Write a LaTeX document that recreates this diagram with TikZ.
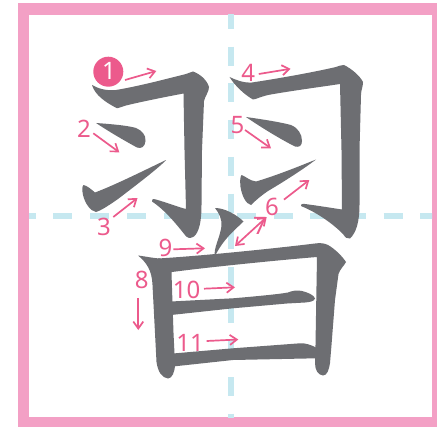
\documentclass[tikz,border=0pt]{standalone}
\usepackage{fontspec}
\setmainfont{Noto Sans}
\usetikzlibrary{arrows.meta}
\definecolor{framepink}{RGB}{243,160,197}
\definecolor{guideblue}{RGB}{198,232,240}
\definecolor{inkgray}{RGB}{109,110,114}
\definecolor{labelpink}{RGB}{236,90,140}
\begin{document}
\begin{tikzpicture}[x=1pt,y=-1pt,
  inkstroke/.style={fill=inkgray},
  num/.style={text=labelpink,font=\fontsize{24}{24}\selectfont,anchor=base,inner sep=0pt},
  dirarrow/.style={draw=labelpink,line width=1.7pt,-{Straight Barb[length=7pt,width=10pt]}},
  dirboth/.style={draw=labelpink,line width=1.7pt,{Straight Barb[length=7pt,width=10pt]}-{Straight Barb[length=7pt,width=10pt]}},
  guide/.style={draw=guideblue,line width=6pt,dash pattern=on 19pt off 17.7pt}]
\useasboundingbox (0,0) rectangle (437,428);
\fill[white] (0,0) rectangle (437,428);
\fill[framepink] (18,3) rectangle (437,427);
\fill[white] (29,15) rectangle (432,417);
\begin{scope}
\clip (29,15) rectangle (432,417);
\draw[guide] (230.5,10) -- (230.5,428);
\draw[guide] (16.7,216.3) -- (437,216.3);
\end{scope}
% stroke 1
\fill[inkstroke] (92,85) .. controls (98,88.5) and (106,91) .. (116,90)
 .. controls (140,86) and (170,78) .. (186,74)
 .. controls (189,73) and (191,72) .. (193,71.5)
 .. controls (200,74) and (207,80) .. (209,87)
 .. controls (209,92) and (205,96) .. (204,101)
 -- (202,150) -- (201.5,205)
 .. controls (201.5,222) and (199,232) .. (194,236.5)
 .. controls (190,239) and (187,238) .. (185,235)
 .. controls (177,225) and (165,210) .. (152,201.5)
 .. controls (151,199.5) and (153,198.5) .. (156,199.5)
 .. controls (168,203) and (178,207) .. (186,209)
 -- (184.5,150) -- (183.5,93.5)
 .. controls (165,97) and (140,102) .. (126,105.5)
 .. controls (121,107) and (118,108.5) .. (116.5,108)
 .. controls (105,102) and (95,95) .. (92,85) -- cycle;
% stroke 2
\fill[inkstroke] (96,123) .. controls (110,124) and (128,125.5) .. (136,128)
 .. controls (142,130.5) and (146,135) .. (145.5,141)
 .. controls (145,147) and (141,149) .. (137,147.5)
 .. controls (125,141) and (108,131) .. (96,123) -- cycle;
% stroke 3
\fill[inkstroke] (83.5,185) .. controls (87,185.5) and (92,190) .. (95,192.5)
 .. controls (115,185) and (145,170) .. (166,160)
 .. controls (160,167) and (135,186) .. (118,199)
 .. controls (108,206) and (100,211) .. (96,212)
 .. controls (90,211) and (85,203) .. (83,195)
 .. controls (82,190) and (82,186) .. (83.5,185) -- cycle;
% stroke 4
\fill[inkstroke] (229.5,77) .. controls (236,80) and (243,83) .. (252,82.5)
 .. controls (275,79) and (310,73) .. (336,67)
 .. controls (339,66) and (341,65) .. (344,65)
 .. controls (352,69) and (360,76) .. (363,82)
 .. controls (363,87) and (361,90) .. (361,95)
 -- (359.5,150) -- (359.5,205)
 .. controls (359.5,222) and (356,233) .. (350,238.5)
 .. controls (347,239.5) and (345,237) .. (343,234)
 .. controls (333,224) and (318,213) .. (301,206)
 .. controls (300,204.5) and (302,203.5) .. (305,204)
 .. controls (320,206) and (332,208) .. (342,209.5)
 -- (341.5,150) -- (340,84)
 .. controls (320,87) and (290,91) .. (268,95)
 .. controls (260,97) and (255,99.5) .. (253,99.5)
 .. controls (245,95) and (235,86) .. (229.5,77) -- cycle;
% stroke 5
\fill[inkstroke] (246,117) .. controls (260,119) and (280,122) .. (291,125)
 .. controls (298,128) and (302,134) .. (302,141)
 .. controls (302,146) and (299,147.5) .. (295,146.5)
 .. controls (282,140) and (262,128) .. (246,117) -- cycle;
% stroke 6
\fill[inkstroke] (241.5,175) .. controls (245,176) and (250,181) .. (256,181.5)
 .. controls (275,176) and (300,166) .. (316,159.5)
 .. controls (305,168) and (285,181) .. (268,191)
 .. controls (262,195) and (256,200) .. (251,205)
 .. controls (246,204) and (242,196) .. (240.5,187)
 .. controls (240,181) and (240,177) .. (241.5,175) -- cycle;
% stroke 7
\fill[inkstroke] (215,208) .. controls (225,208) and (237,215) .. (243.5,221.5)
 .. controls (236,229) and (224,238) .. (215,256)
 .. controls (213,249) and (220,238) .. (221.5,226)
 .. controls (222,219) and (219,213) .. (215,208) -- cycle;
% stroke 8
\fill[inkstroke] (138,255.5) .. controls (146,256.5) and (152,258) .. (160,258.5)
 -- (172,262) -- (171.5,273) -- (173.5,333) -- (175,364)
 .. controls (175,372) and (172,378.5) .. (168,378.5)
 .. controls (162,378) and (158,372) .. (156.5,362)
 -- (155,333) -- (152.5,285)
 .. controls (152,270) and (146,262) .. (138,255.5) -- cycle;
% stroke 9
\fill[inkstroke] (158,258.5) .. controls (200,256) and (270,249) .. (316.7,243.3)
 .. controls (321,242.8) and (325,243.5) .. (328,245)
 .. controls (335,249) and (342,256) .. (346,262)
 .. controls (344,266) and (340,269) .. (338.5,274)
 -- (335,300) -- (331.5,345) -- (330,363)
 .. controls (329,370) and (327,375.5) .. (323,375.5)
 .. controls (318,375) and (315,370) .. (315,363)
 -- (315.5,345) -- (317,257)
 .. controls (280,260) and (210,267) .. (172,272) -- (160,272) -- cycle;
% stroke 10
\fill[inkstroke] (171,301.5) -- (233,298.3)
 .. controls (260,296) and (280,294) .. (288,292.5)
 .. controls (293,290.5) and (297,290) .. (302,291)
 .. controls (308,292.5) and (314,295) .. (315,298.5)
 .. controls (314,301.5) and (310,302) .. (305,302.5)
 -- (287,303.5) -- (233,308.3) -- (171,315) -- cycle;
% stroke 11
\fill[inkstroke] (173,353.5) -- (233,348.3) -- (300,343.3)
 .. controls (306,343) and (311,345) .. (316,347.5)
 -- (316,358.3) -- (233,360) -- (173,366.5) -- cycle;
% labels
\node[circle,fill=labelpink,minimum size=30pt,inner sep=0pt] (c1) at (108.3,71.7) {};
\node[num,text=white] (n1) at (109,80) {1};
\node[num] (n2) at (84,138) {2};
\node[num] (n3) at (104,235.5) {3};
\node[num] (n4) at (248.3,81.7) {4};
\node[num] (n5) at (237.5,134) {5};
\node[num] (n6) at (272,215.3) {6};
\node[num] (n7) at (260,234) {7};
\node[num] (n8) at (141.7,288) {8};
\node[num] (n9) at (165.5,256.5) {9};
\node[num] (n10) at (186.7,298) {10};
\node[num] (n11) at (190,351.5) {11};
% arrows
\coordinate (a1s) at (125,80);    \coordinate (a1e) at (156.3,71);
\coordinate (a2s) at (93.3,133.3);\coordinate (a2e) at (119.3,152.3);
\coordinate (a3s) at (113.3,217); \coordinate (a3e) at (137.5,198);
\coordinate (a4s) at (258.8,74);  \coordinate (a4e) at (290.5,68.8);
\coordinate (a5s) at (245,130);   \coordinate (a5e) at (271,148.3);
\coordinate (a6s) at (284,199.6); \coordinate (a6e) at (309.3,180);
\coordinate (a7s) at (266.7,217); \coordinate (a7e) at (235,246);
\coordinate (a8s) at (138.3,298.3);\coordinate (a8e) at (138.3,330);
\coordinate (a9s) at (173.3,249.3);\coordinate (a9e) at (205,248.3);
\coordinate (a10s) at (204,288.7);\coordinate (a10e) at (235,287.3);
\coordinate (a11s) at (206.7,341);\coordinate (a11e) at (238.3,339.5);
\draw[dirarrow] (a1s) -- (a1e);
\draw[dirarrow] (a2s) -- (a2e);
\draw[dirarrow] (a3s) -- (a3e);
\draw[dirarrow] (a4s) -- (a4e);
\draw[dirarrow] (a5s) -- (a5e);
\draw[dirarrow] (a6s) -- (a6e);
\draw[dirboth] (a7s) -- (a7e);
\draw[dirarrow] (a8s) -- (a8e);
\draw[dirarrow] (a9s) -- (a9e);
\draw[dirarrow] (a10s) -- (a10e);
\draw[dirarrow] (a11s) -- (a11e);
\end{tikzpicture}
\end{document}
